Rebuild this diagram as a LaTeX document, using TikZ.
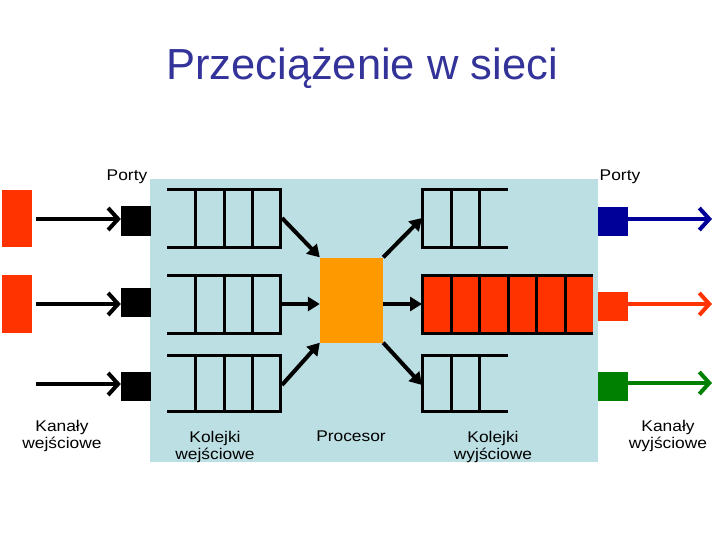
\documentclass[tikz,border=0pt]{standalone}
\usepackage{fontspec}
\setmainfont{Liberation Sans}
\newfontfamily\lblfont[FakeStretch=1.12]{Liberation Sans}
\usetikzlibrary{arrows.meta}
\definecolor{bgblue}{HTML}{BCDFE3}
\definecolor{titleblue}{HTML}{333399}
\definecolor{hotred}{HTML}{FF3300}
\definecolor{procorange}{HTML}{FF9900}
\definecolor{outblue}{HTML}{000099}
\definecolor{outgreen}{HTML}{008000}
\tikzset{
  qline/.style={line width=3pt},
  chev/.style={line width=4pt,-{Straight Barb[length=10pt,width=22pt,line width=4pt]}},
  tri/.style={line width=4pt,-{Triangle[length=12pt,width=14pt]}, shorten >=0pt},
  lbl/.style={font=\lblfont\fontsize{15.5}{17.5}\selectfont, align=center, inner sep=0pt},
  portbox/.style={minimum width=30pt, minimum height=29pt, inner sep=0pt, draw=none},
}
\begin{document}
\begin{tikzpicture}[x=1pt,y=-1pt]
\useasboundingbox (0,0) rectangle (720,540);
% title
\node[font=\fontsize{43.5}{46}\selectfont, text=titleblue, anchor=base] (title) at (362,80) {Przeciążenie w sieci};
% background
\fill[bgblue] (150,179) rectangle (598,462);
% left input channels
\fill[hotred] (2,190) rectangle (32,247);
\fill[hotred] (2,275) rectangle (32,333);
% input ports
\node[portbox, fill=black] (pi1) at (136,221) {};
\node[portbox, fill=black] (pi2) at (136,302) {};
\node[portbox, fill=black] (pi3) at (136,386) {};
\coordinate (ai1) at (36,219);
\coordinate (ai2) at (36,304);
\coordinate (ai3) at (36,384);
\draw[chev] (ai1) -- (ai1 -| pi1.west);
\draw[chev] (ai2) -- (ai2 -| pi2.west);
\draw[chev] (ai3) -- (ai3 -| pi3.west);
% input queues
\foreach \t/\b in {190/247, 275/333, 355/411}{
  \draw[qline] (167,\t) -- (280,\t) -- (280,\b) -- (167,\b);
  \draw[qline] (195,\t) -- (195,\b);
  \draw[qline] (224,\t) -- (224,\b);
  \draw[qline] (252,\t) -- (252,\b);
}
\coordinate (qi1) at (282,218);
\coordinate (qi2) at (280,304);
\coordinate (qi3) at (282,385);
% processor
\node[fill=procorange, minimum width=63pt, minimum height=85pt, inner sep=0pt] (proc) at (351.5,300) {};
\draw[tri] (qi1) -- (proc.north west);
\draw[tri] (qi2) -- (proc.west |- qi2);
\draw[tri] (qi3) -- (proc.south west);
% output queues
\coordinate (qo1) at (422,218);
\coordinate (qo2) at (422,304);
\coordinate (qo3) at (422,385);
\draw[tri] (proc.north east) -- (qo1);
\draw[tri] (proc.east |- qo2) -- (qo2);
\draw[tri] (proc.south east) -- (qo3);
\foreach \t/\b in {190/247, 355/411}{
  \draw[qline] (508,\t) -- (422,\t) -- (422,\b) -- (508,\b);
  \draw[qline] (451,\t) -- (451,\b);
  \draw[qline] (479,\t) -- (479,\b);
}
\fill[hotred] (422,275) rectangle (593,333);
\draw[qline] (593,275) -- (422,275) -- (422,333) -- (593,333);
\foreach \x in {451,479.5,508,536.5,565}{
  \draw[qline] (\x,275) -- (\x,333);
}
% output ports
\node[portbox, fill=outblue] (po1) at (612.5,221.5) {};
\node[portbox, fill=hotred] (po2) at (612.5,306.5) {};
\node[portbox, fill=outgreen] (po3) at (612.5,386) {};
\coordinate (ao1) at (712,219);
\coordinate (ao2) at (712,304);
\coordinate (ao3) at (712,383);
\draw[chev, outblue] (po1.east |- ao1) -- (ao1);
\draw[chev, hotred] (po2.east |- ao2) -- (ao2);
\draw[chev, outgreen] (po3.east |- ao3) -- (ao3);
% labels
\node[lbl, anchor=base] (lp1) at (127,181) {Porty};
\node[lbl, anchor=base] (lp2) at (620,181) {Porty};
\node[lbl] (l1) at (62,436) {Kanały\\wejściowe};
\node[lbl] (l2) at (215,447) {Kolejki\\wejściowe};
\node[lbl] (l3) at (351,436) {Procesor};
\node[lbl] (l4) at (493,447) {Kolejki\\wyjściowe};
\node[lbl] (l5) at (668,436) {Kanały\\wyjściowe};
\end{tikzpicture}
\end{document}
